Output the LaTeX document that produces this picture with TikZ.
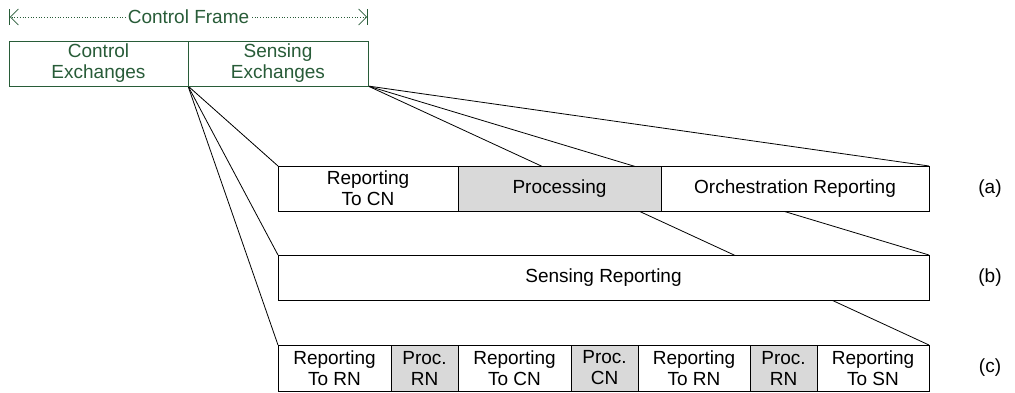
\documentclass[tikz,border=0pt]{standalone}
\usepackage{fontspec}
\setmainfont{Liberation Sans}
\usetikzlibrary{arrows.meta,backgrounds}
\definecolor{framegreen}{RGB}{40,92,56}
\definecolor{procgray}{RGB}{217,217,217}
\tikzset{
  cell/.style={draw, fill=white, line width=0.8pt, anchor=north west, inner sep=0pt,
    outer sep=0pt, minimum height=45, align=center, font=\fontsize{19}{21}\selectfont},
  proccell/.style={cell, fill=procgray},
  topcell/.style={cell, draw=framegreen, text=framegreen},
  fan/.style={line width=0.8pt},
  rowlabel/.style={font=\fontsize{19}{21}\selectfont},
  frameends/.style={framegreen, line width=0.8pt,
    {Bar[width=16pt]Straight Barb[length=8pt,width=16pt]}-{Straight Barb[length=8pt,width=16pt]Bar[width=16pt]}},
}
\begin{document}
\begin{tikzpicture}[x=1pt,y=-1pt]
  \useasboundingbox (0,0) rectangle (1015,392);
  \coordinate (fl) at (9,17);
  \coordinate (fr) at (368,17);

  % control frame
  \draw[framegreen,dotted,line width=0.7pt]
    (fl) -- node[fill=white,text=framegreen,inner sep=2pt,font=\fontsize{19}{21}\selectfont] (frame) {Control Frame} (fr);
  \path[frameends,tips] (fl) -- (fr);
  \node[topcell,minimum width=179] (ctrl) at (9,41) {Control\\Exchanges};
  \node[topcell,minimum width=180] (sens) at (ctrl.north east) {Sensing\\Exchanges};

  % (a)
  \node[cell,minimum width=180] (repcn) at (278,166) {Reporting\\To CN};
  \node[proccell,minimum width=203] (proc) at (repcn.north east) {Processing};
  \node[cell,minimum width=268] (orch) at (proc.north east) {Orchestration Reporting};

  % (b)
  \node[cell,minimum width=651] (sensrep) at (278,255) {Sensing Reporting};

  % (c)
  \node[cell,minimum width=113,minimum height=46] (c1) at (278,345) {Reporting\\To RN};
  \node[proccell,minimum width=67,minimum height=46] (c2) at (c1.north east) {Proc.\\RN};
  \node[cell,minimum width=113,minimum height=46] (c3) at (c2.north east) {Reporting\\To CN};
  \node[proccell,minimum width=67,minimum height=46] (c4) at (c3.north east) {Proc.\\CN};
  \node[cell,minimum width=112,minimum height=46] (c5) at (c4.north east) {Reporting\\To RN};
  \node[proccell,minimum width=67,minimum height=46] (c6) at (c5.north east) {Proc.\\RN};
  \node[cell,minimum width=112,minimum height=46] (c7) at (c6.north east) {Reporting\\To SN};

  \node[rowlabel] (la) at (990,189) {(a)};
  \node[rowlabel] (lb) at (990,278) {(b)};
  \node[rowlabel] (lc) at (990,368) {(c)};

  % zoom lines behind the boxes
  \begin{scope}[on background layer]
    \draw[fan] (ctrl.south east) -- (repcn.north west);
    \draw[fan] (ctrl.south east) -- (sensrep.north west);
    \draw[fan] (ctrl.south east) -- (c1.north west);
    \draw[fan] (sens.south east) -- (orch.north east);
    \draw[fan] (sens.south east) -- (sensrep.north east);
    \draw[fan] (sens.south east) -- (c7.north east);
  \end{scope}
\end{tikzpicture}
\end{document}
